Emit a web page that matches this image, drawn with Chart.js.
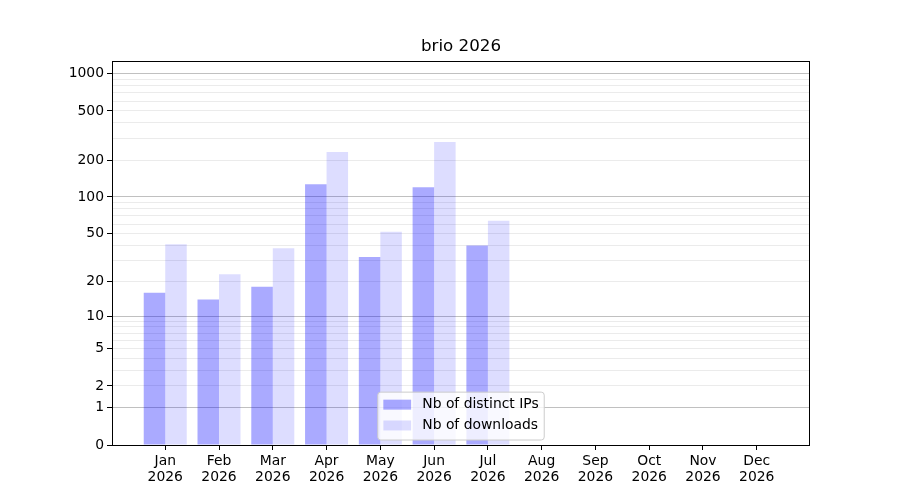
<!DOCTYPE html>
<html>
<head>
<meta charset="utf-8">
<script src="https://cdn.jsdelivr.net/npm/chart.js@4"></script>
<style>
  html, body { margin: 0; padding: 0; background: #fff; }
  canvas { display: block; }
</style>
</head>
<body>
<canvas id="graphCanvas" width="900" height="500"></canvas>
<script>
// data
var months = ['Jan', 'Feb', 'Mar', 'Apr', 'May', 'Jun', 'Jul', 'Aug', 'Sep', 'Oct', 'Nov', 'Dec'];
var year = '2026';
var distinctIPs = [16, 14, 18, 127, 32, 120, 40, 0, 0, 0, 0, 0];
var downloads = [41, 23, 38, 232, 52, 280, 64, 0, 0, 0, 0, 0];
var yTickLabels = [0, 1, 2, 5, 10, 20, 50, 100, 200, 500, 1000];
var yMax = 1274;

// y axis is log10(1 + v)
function fwd(v) { return Math.log10(1 + Math.max(v, 0)); }
function inv(t) { return Math.pow(10, t) - 1; }

class Log1pScale extends Chart.LinearScale {
    configure() {
        super.configure();
        this._tStart = fwd(this.min);
        this._tRange = fwd(this.max) - fwd(this.min);
    }
    getPixelForValue(value) {
        return this.getPixelForDecimal((fwd(value) - this._tStart) / this._tRange);
    }
    getValueForPixel(pixel) {
        return inv(this.getDecimalForPixel(pixel) * this._tRange + this._tStart);
    }
}
Log1pScale.id = 'log1p';
Log1pScale.defaults = Chart.LinearScale.defaults;
Chart.register(Log1pScale);

// gridline positions: every integer step inside each decade
var yGrid = [0];
for (var d = 1; d <= 1000; d *= 10) {
    for (var k = 1; k <= 9; k++) {
        if (k * d <= yMax) yGrid.push(k * d);
    }
}

function isDecade(v) { return v === 1 || v === 10 || v === 100 || v === 1000; }

var frameAndLegend = {
    id: 'frameAndLegend',
    afterDraw: function(chart) {
        var c = chart.ctx, a = chart.chartArea;
        var L = Math.round(a.left) + 0.5, R = Math.round(a.right) - 0.5;
        var T = Math.round(a.top) + 0.5, B = Math.round(a.bottom) + 0.5;
        c.save();
        // axes frame on all four sides
        c.strokeStyle = '#000';
        c.lineWidth = 1;
        c.strokeRect(L, T, R - L, B - T);

        // legend, lower centre inside the axes
        var fs = 13.9;
        c.font = fs + 'px "DejaVu Sans"';
        var items = chart.data.datasets;
        var tw = 0;
        items.forEach(function(ds) { tw = Math.max(tw, c.measureText(ds.label).width); });
        var pad = 0.4 * fs, handle = 2 * fs, gap = 0.8 * fs, rowH = fs, sp = 0.5 * fs;
        var w = pad + handle + gap + tw + pad;
        var h = pad * 2 + rowH * items.length + sp * (items.length - 1) + 2;
        var x0 = (a.left + a.right) / 2 - w / 2;
        var y0 = a.bottom - 5 - h;
        c.beginPath();
        c.roundRect(x0, y0, w, h, 3);
        c.fillStyle = 'rgba(255,255,255,0.8)';
        c.fill();
        c.strokeStyle = '#cccccc';
        c.stroke();
        c.textBaseline = 'middle';
        items.forEach(function(ds, i) {
            var cy = y0 + pad + rowH / 2 + i * (rowH + sp);
            c.fillStyle = ds.backgroundColor;
            c.fillRect(x0 + pad, cy - 5, handle, 10);
            c.fillStyle = '#000';
            c.fillText(ds.label, x0 + pad + handle + gap, cy);
        });
        c.restore();
    }
};

Chart.defaults.font.family = '"DejaVu Sans"';
Chart.defaults.color = '#000';

var chartdata = {
    datasets: [
        {
            label: 'Nb of distinct IPs',
            backgroundColor: 'rgba(0, 0, 255, 0.333)',
            data: distinctIPs.map(function(v, i) { return {x: i, y: v}; })
        },
        {
            label: 'Nb of downloads',
            backgroundColor: 'rgba(0, 0, 255, 0.135)',
            data: downloads.map(function(v, i) { return {x: i, y: v}; })
        }
    ]
};

var ctx = document.getElementById('graphCanvas');
var barGraph = new Chart(ctx, {
    type: 'bar',
    data: chartdata,
    plugins: [frameAndLegend],
    options: {
        responsive: false,
        animation: false,
        devicePixelRatio: 1,
        categoryPercentage: 0.8,
        barPercentage: 1.0,
        layout: { padding: { left: 0, right: 90, top: 0, bottom: 0 } },
        plugins: {
            legend: { display: false },
            tooltip: { enabled: false },
            title: {
                display: true,
                fullSize: false,
                text: 'brio 2026',
                font: { size: 16.7, weight: 'normal' },
                color: '#000',
                padding: { top: 37, bottom: 3.7 }
            }
        },
        scales: {
            x: {
                type: 'linear',
                min: -0.99,
                max: 11.99,
                offset: false,
                afterBuildTicks: function(s) {
                    s.ticks = months.map(function(m, i) { return {value: i}; });
                },
                afterFit: function(s) { s.height = 55; },
                grid: { offset: false, drawOnChartArea: false, drawTicks: true, tickLength: 5, tickColor: '#000' },
                border: { display: false },
                ticks: {
                    autoSkip: false,
                    maxRotation: 0,
                    padding: 3,
                    font: { size: 13.9, lineHeight: 1.15 },
                    callback: function(v) { return [months[v], year]; }
                }
            },
            y: {
                type: 'log1p',
                min: 0,
                max: yMax,
                afterBuildTicks: function(s) {
                    s.ticks = yGrid.map(function(v) { return {value: v}; });
                },
                afterFit: function(s) { s.width = 112; },
                grid: {
                    drawTicks: true,
                    tickLength: 5,
                    color: function(c) {
                        if (!c.tick) return 'rgba(0,0,0,0)';
                        if (c.tick.value === 0) return 'rgba(0,0,0,0)';
                        return isDecade(c.tick.value) ? '#c0c0c0' : '#ebebeb';
                    },
                    tickColor: function(c) {
                        return c.tick && yTickLabels.indexOf(c.tick.value) >= 0 ? '#000' : 'rgba(0,0,0,0)';
                    }
                },
                border: { display: false },
                ticks: {
                    autoSkip: false,
                    padding: 3,
                    font: { size: 13.9 },
                    callback: function(v) { return yTickLabels.indexOf(v) >= 0 ? String(v) : ''; }
                }
            }
        }
    }
});
</script>
</body>
</html>
